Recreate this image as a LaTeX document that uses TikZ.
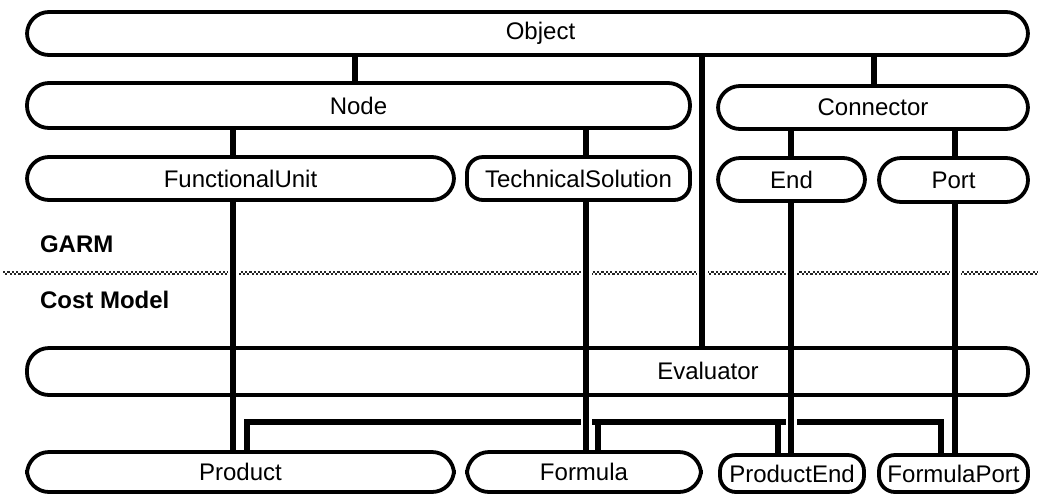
\documentclass[tikz,border=0pt]{standalone}
\usepackage{fontspec}
\setmainfont{Liberation Sans}
\usetikzlibrary{backgrounds}

% class box: name, left, top, right, bottom, text, extra options
\newcommand\classbox[7][]{%
  \node[cls, #1, minimum width={(#5-#3)*0.5pt}, minimum height={(#6-#4)*0.5pt}]
    (#2) at ({(#3+#5)/2},{(#4+#6)/2}) {#7};}

\begin{document}
\begin{tikzpicture}[x=0.5pt, y=-0.5pt,
  cls/.style={draw, line width=1.9pt, rounded corners=11pt, inner sep=0pt,
              font=\fontsize{12}{14}\selectfont},
  tight/.style={rounded corners=8pt},
  link/.style={line width=2.7pt, preaction={draw=white, line width=5.5pt}},
  bracket/.style={line width=2.6pt},
  sep/.style={line width=1.1pt, black!85, dash pattern=on 1.1pt off 1.1pt},
  layer/.style={font=\bfseries\fontsize{12}{14}\selectfont, anchor=west}]
\useasboundingbox (0,0) rectangle (1038,494);

% GARM classes
\classbox{obj}{27}{12}{1028}{55}{\hspace{13pt}Object}
\classbox{nd}{27}{83}{690}{128}{Node}
\classbox{con}{718}{86}{1028}{129}{Connector}
\classbox{fu}{27}{157}{454}{200}{FunctionalUnit}
\classbox[tight]{ts}{467}{157}{690}{200}{TechnicalSolution}
\classbox{end}{718}{158}{865}{201}{End}
\classbox{port}{879}{158}{1028}{202}{Port}

% cost model classes
\classbox{eval}{27}{348}{1028}{395}{}
\node[font=\fontsize{12}{14}\selectfont] (evaltext) at (708,371) {Evaluator};
\classbox{prod}{27}{452}{454}{492}{Product}
\classbox{form}{467}{452}{701}{492}{Formula}
\classbox[tight]{pend}{720}{455}{864}{492}{ProductEnd}
\classbox[tight]{fport}{879}{455}{1028}{492}{FormulaPort}

% layer labels
\node[layer] (garm) at (33,244) {GARM};
\node[layer] (cost) at (33,300) {Cost Model};

% x positions of the connectors
\coordinate (xa) at (355,0);
\coordinate (xb) at (874,0);
\coordinate (xc) at (702,0);
\coordinate (xd) at (233,0);
\coordinate (xe) at (586,0);
\coordinate (xf) at (791,0);
\coordinate (xg) at (955,0);
\coordinate (xh) at (247,0);
\coordinate (xi) at (598,0);
\coordinate (xj) at (778,0);
\coordinate (xk) at (941,0);
\coordinate (yb) at (0,422);

\begin{pgfonlayer}{background}
  % separator between the two models
  \draw[sep] (3,271.8) -- (1038,271.8);
  \draw[sep, dash phase=1.1pt] (3,274) -- (1038,274);

  % evaluator bracket
  \draw[bracket] (xh |- prod.north) -- (xh |- yb) -- (xk |- yb) -- (xk |- fport.north);
  \draw[bracket] (xi |- yb) -- (xi |- form.north);
  \draw[bracket] (xj |- yb) -- (xj |- pend.north);

  % inheritance links
  \draw[link] (xa |- obj.south) -- (xa |- nd.north);
  \draw[link] (xb |- obj.south) -- (xb |- con.north);
  \draw[link] (xc |- obj.south) -- (xc |- eval.north);
  \draw[link] (xd |- nd.south) -- (xd |- fu.north);
  \draw[link] (xe |- nd.south) -- (xe |- ts.north);
  \draw[link] (xf |- con.south) -- (xf |- end.north);
  \draw[link] (xg |- con.south) -- (xg |- port.north);
  \draw[link] (xd |- fu.south) -- (xd |- prod.north);
  \draw[link] (xe |- ts.south) -- (xe |- form.north);
  \draw[link] (xf |- end.south) -- (xf |- pend.north);
  \draw[link] (xg |- port.south) -- (xg |- fport.north);
\end{pgfonlayer}
\end{tikzpicture}
\end{document}
